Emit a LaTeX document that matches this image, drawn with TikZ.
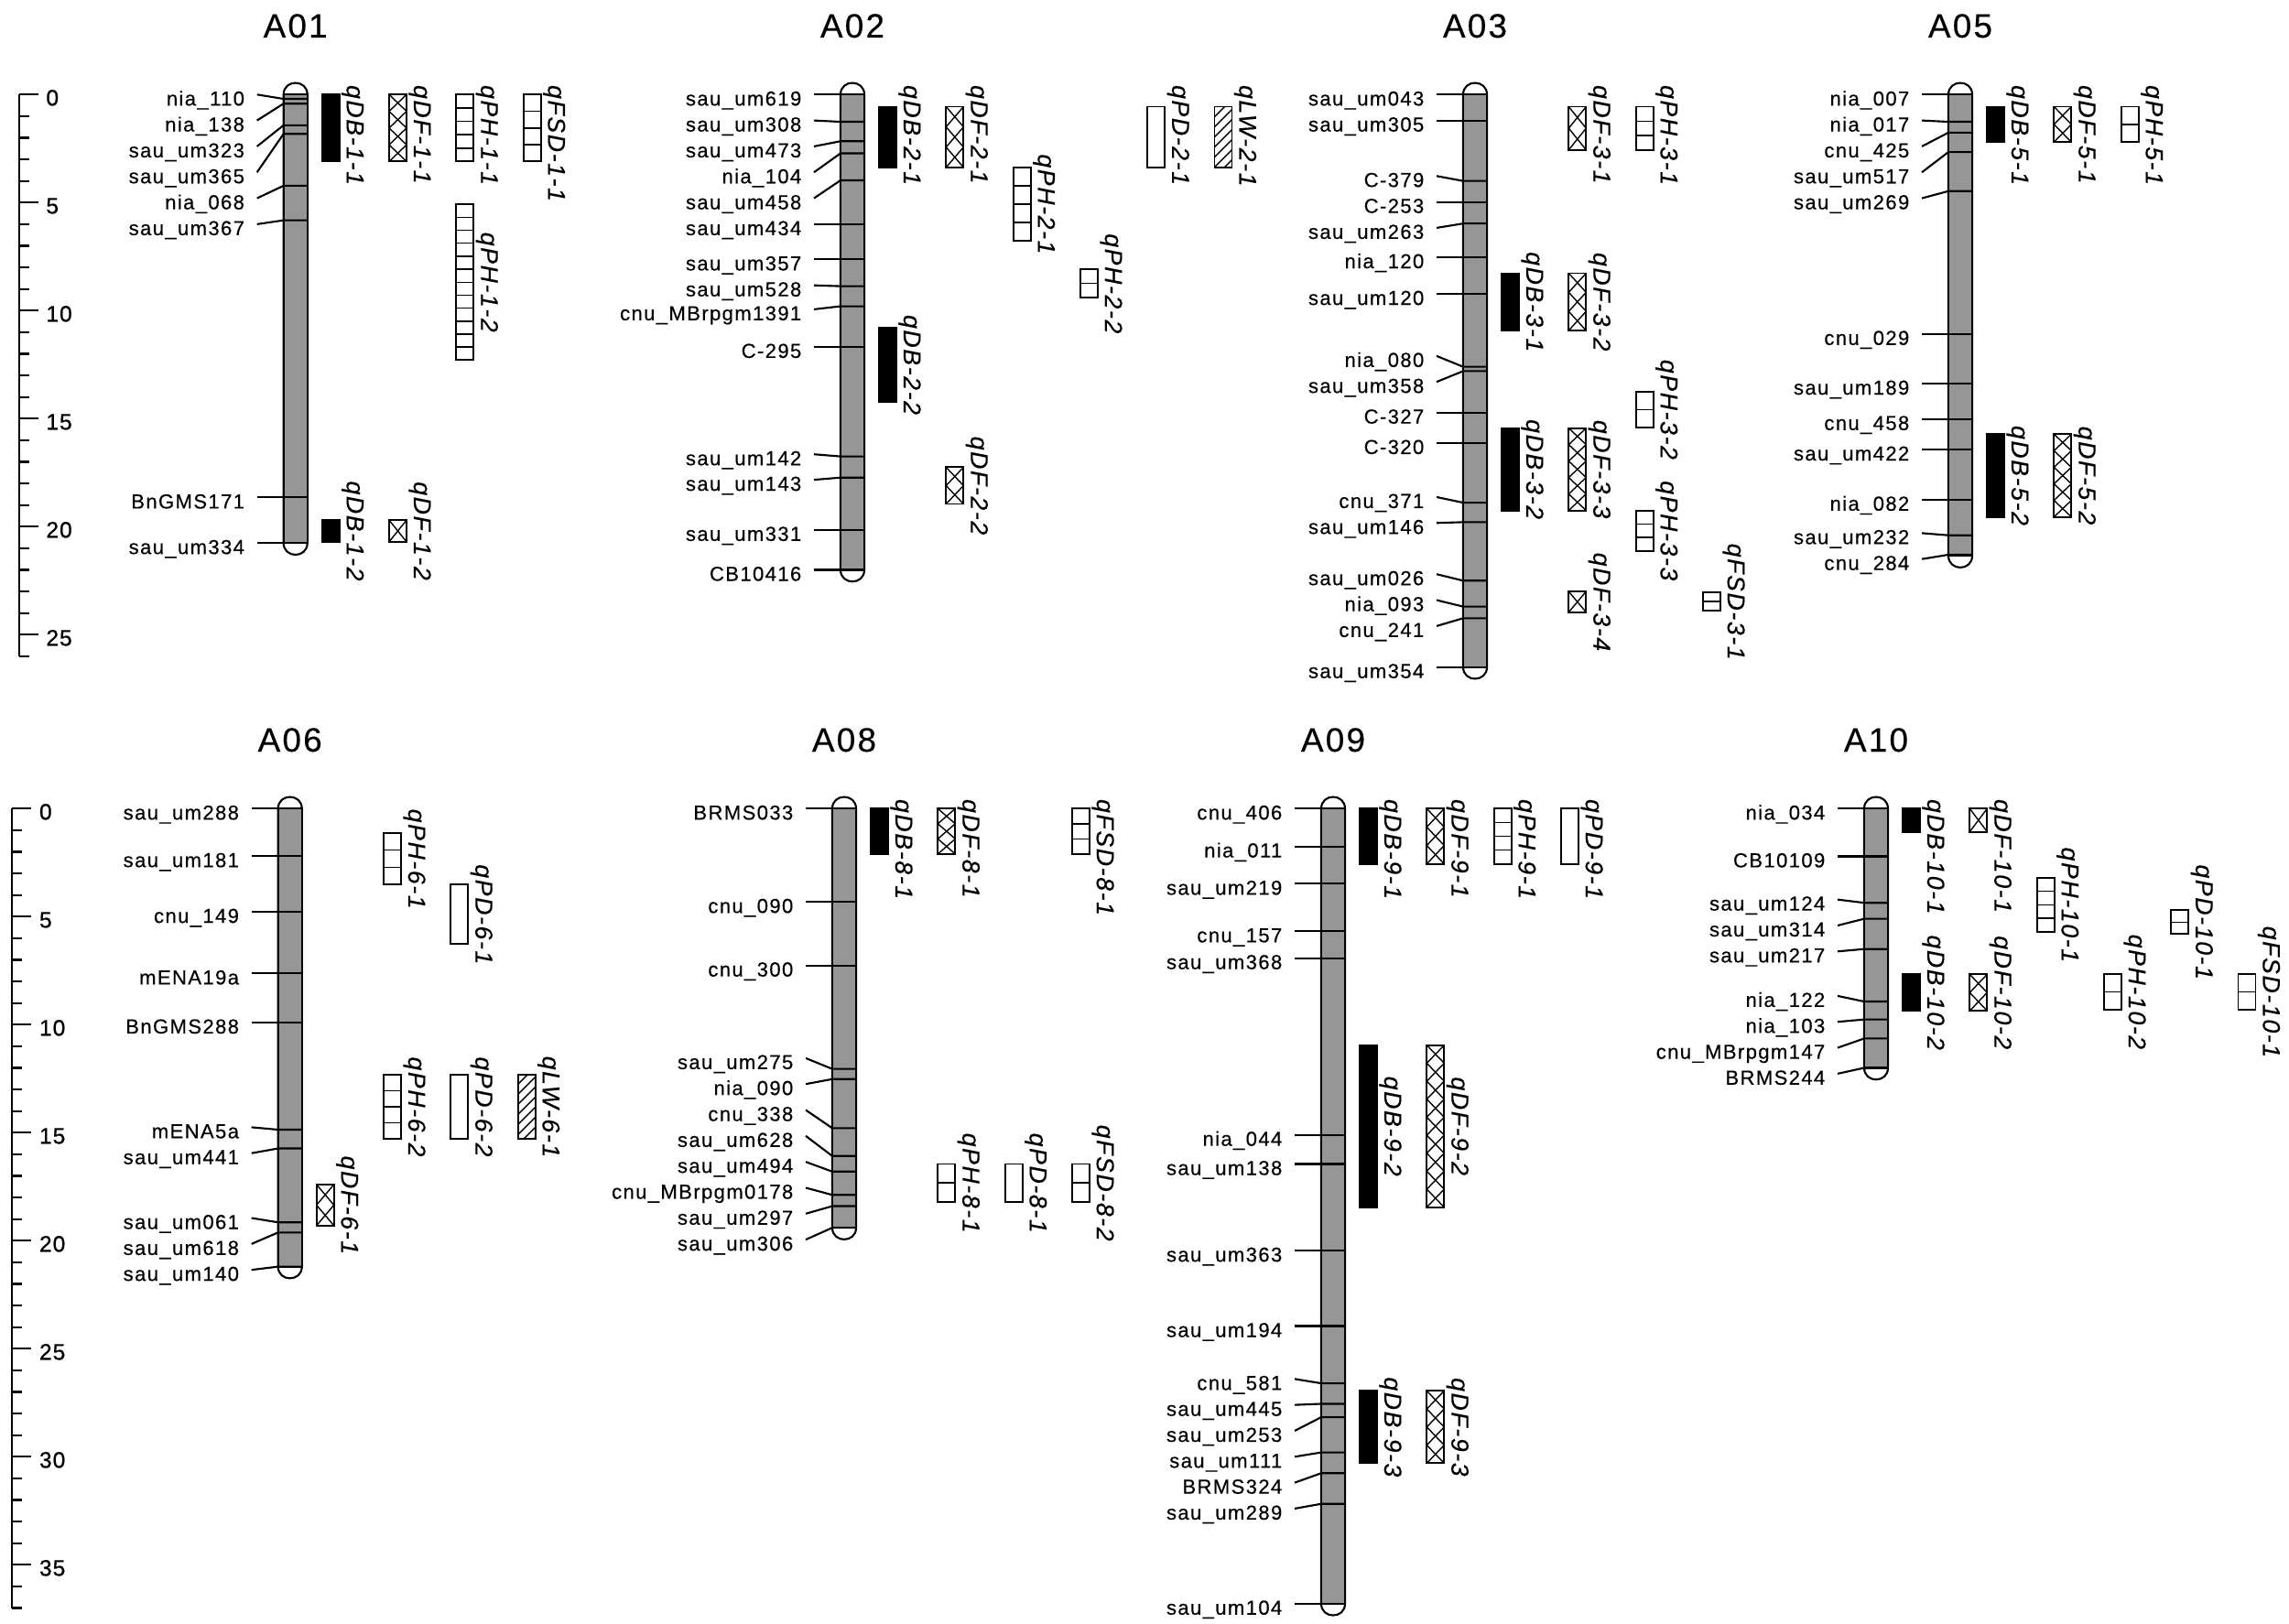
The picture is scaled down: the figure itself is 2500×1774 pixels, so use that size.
\documentclass[tikz,border=0pt]{standalone}
\usepackage{fontspec}
\setmainfont{Liberation Sans}
\newfontfamily\mkfont[LetterSpace=6, FakeBold=0.3]{Liberation Sans}
\newfontfamily\numfont[LetterSpace=4, FakeBold=0.8]{Liberation Sans}
\definecolor{chromgray}{RGB}{150,150,150}
\tikzset{
  chrline/.style={draw=black, line width=0.6pt},
  qline/.style={draw=black, line width=0.55pt},
  hatch/.style={draw=black, line width=0.4pt},
  mktick/.style={draw=black, line width=0.6pt},
  scl/.style={draw=black, line width=0.65pt},
  mk/.style={font=\mkfont\fontsize{6.3}{7.5}\selectfont, inner sep=0pt, anchor=base east},
  num/.style={font=\numfont\fontsize{7}{8}\selectfont, inner sep=0pt, anchor=base west},
  qlab/.style={font=\mkfont\itshape\fontsize{7.6}{8.5}\selectfont, inner sep=0pt, rotate=-90},
  ttl/.style={font=\mkfont\fontsize{10.5}{12}\selectfont, inner sep=0pt}
}
% chromosome: name, centre x, y of 0 cM, length in cM
\newcommand\Chrom[4]{%
  \pgfmathsetmacro\cxc{#2}%
  \pgfmathsetmacro\cxl{#2-13}%
  \pgfmathsetmacro\cxr{#2+13}%
  \pgfmathsetmacro\cyt{#3}%
  \pgfmathsetmacro\cyb{#3+23.6*(#4)}%
  \pgfmathsetmacro\capt{#3-17}%
  \pgfmathsetmacro\capb{\cyb+17}%
  \def\cname{#1}%
  \draw[chrline, fill=white] (\cxl,\cyt) .. controls (\cxl,\capt) and (\cxr,\capt) .. (\cxr,\cyt) -- (\cxr,\cyb) .. controls (\cxr,\capb) and (\cxl,\capb) .. (\cxl,\cyb) -- cycle;
  \draw[chrline, fill=chromgray] (\cxl,\cyt) rectangle (\cxr,\cyb);
  \node[ttl] (#1) at (#2,#3-75) {#1};
}
% marker: id, marker cM, label cM, text
\newcommand\Mk[4]{%
  \pgfmathsetmacro\my{\cyt+23.6*(#2)}%
  \pgfmathsetmacro\ly{\cyt+23.6*(#3)}%
  \coordinate (\cname-#1-s) at (\cxl-29,\ly);
  \coordinate (\cname-#1-m) at (\cxl,\my);
  \coordinate (\cname-#1-r) at (\cxr,\my);
  \node[mk] (\cname-#1) at (\cxl-42,\ly+12) {#4};
  \draw[mktick] (\cname-#1-s) -- (\cname-#1-m) -- (\cname-#1-r);
}
\newcommand\Qgeo[3]{%
  \pgfmathsetmacro\qxl{\cxc+29+73.3*(#1-1)}%
  \pgfmathsetmacro\qxr{\qxl+19}%
  \pgfmathsetmacro\qyt{\cyt+23.6*(#2)}%
  \pgfmathsetmacro\qyb{\cyt+23.6*(#3)}%
  \pgfmathsetmacro\qym{(\qyt+\qyb)/2}%
  \pgfmathsetmacro\qh{\qyb-\qyt}%
}
\newcommand\Qlab[3]{%
  \if t#3\relax
    \node[qlab, anchor=base west] (\cname-#1) at (\qxr+8,\cyt-11) {#2};
  \else
    \node[qlab, anchor=base] (\cname-#1) at (\qxr+8,\qym) {#2};
  \fi
}
% id, col, from, to, label, mode
\newcommand\Qdb[6]{%
  \Qgeo{#2}{#3}{#4}%
  \draw[qline, fill=black] (\qxl,\qyt) rectangle (\qxr,\qyb);
  \Qlab{#1}{#5}{#6}%
}
\newcommand\Qpd[6]{%
  \Qgeo{#2}{#3}{#4}%
  \draw[qline, fill=white] (\qxl,\qyt) rectangle (\qxr,\qyb);
  \Qlab{#1}{#5}{#6}%
}
\newcommand\Qdf[6]{%
  \Qgeo{#2}{#3}{#4}%
  \pgfmathtruncatemacro\qn{max(1,round(\qh/19))}%
  \pgfmathsetmacro\qc{\qh/\qn}%
  \foreach \i in {1,...,\qn}{
    \draw[hatch] (\qxl,{\qyt+(\i-1)*\qc}) -- (\qxr,{\qyt+\i*\qc});
    \draw[hatch] (\qxr,{\qyt+(\i-1)*\qc}) -- (\qxl,{\qyt+\i*\qc});
  }
  \draw[qline] (\qxl,\qyt) rectangle (\qxr,\qyb);
  \Qlab{#1}{#5}{#6}%
}
% id, col, from, to, label, mode, cells
\newcommand\Qph[7]{%
  \Qgeo{#2}{#3}{#4}%
  \pgfmathtruncatemacro\qm{#7-1}%
  \foreach \i in {1,...,\qm}{
    \draw[hatch] (\qxl,{\qyt+\i*\qh/#7}) -- (\qxr,{\qyt+\i*\qh/#7});
  }
  \draw[qline] (\qxl,\qyt) rectangle (\qxr,\qyb);
  \Qlab{#1}{#5}{#6}%
}
\newcommand\Qlw[6]{%
  \Qgeo{#2}{#3}{#4}%
  \pgfmathtruncatemacro\qn{ceil((\qh+19)/11)}%
  \begin{scope}
    \clip (\qxl,\qyt) rectangle (\qxr,\qyb);
    \foreach \i in {0,...,\qn}{
      \draw[hatch] (\qxl,{\qyt+\i*11}) -- (\qxr,{\qyt+\i*11-19});
    }
  \end{scope}
  \draw[qline] (\qxl,\qyt) rectangle (\qxr,\qyb);
  \Qlab{#1}{#5}{#6}%
}
% scale: name, x, y0, max cM
\newcommand\Scale[4]{%
  \draw[scl] (#2,#3) coordinate (#1-top) -- (#2,{#3+23.6*#4}) coordinate (#1-bot);
  \foreach \c in {0,...,#4}{
    \pgfmathtruncatemacro\rem{mod(\c,5)}
    \ifnum\rem=0
      \draw[scl] (#2,{#3+23.6*\c}) -- ++(21,0);
      \node[num] (#1-n\c) at (#2+29,{#3+23.6*\c+12}) {\c};
    \else
      \draw[scl] (#2,{#3+23.6*\c}) -- ++(11,0);
    \fi
  }
}
\begin{document}
\begin{tikzpicture}[x=0.1mm, y=-0.1mm]
\useasboundingbox (0,0) rectangle (2500,1774);
\fill[white] (0,0) rectangle (2500,1774);

\Scale{s1}{20.7}{103.3}{26}
\Scale{s2}{13.3}{883.3}{37}

% ---------------- A01
\Chrom{A01}{322.7}{103.3}{20.76}
\Mk{m1}{0.2}{0}{nia\_110}
\Mk{m2}{0.42}{1.2}{nia\_138}
\Mk{m3}{1.42}{2.4}{sau\_um323}
\Mk{m4}{1.82}{3.6}{sau\_um365}
\Mk{m5}{4.22}{4.8}{nia\_068}
\Mk{m6}{5.82}{6.0}{sau\_um367}
\Mk{m7}{18.65}{18.65}{BnGMS171}
\Mk{m8}{20.76}{20.76}{sau\_um334}
\Qdb{q1}{1}{0}{3.1}{qDB-1-1}{t}
\Qdf{q2}{2}{0}{3.1}{qDF-1-1}{t}
\Qph{q3}{3}{0}{3.1}{qPH-1-1}{t}{5}
\Qph{q4}{4}{0}{3.1}{qFSD-1-1}{t}{4}
\Qph{q5}{3}{5.08}{12.29}{qPH-1-2}{c}{12}
\Qdb{q6}{1}{19.7}{20.7}{qDB-1-2}{c}
\Qdf{q7}{2}{19.7}{20.7}{qDF-1-2}{c}

% ---------------- A02
\Chrom{A02}{931}{103.3}{22.0}
\Mk{m1}{0}{0}{sau\_um619}
\Mk{m2}{1.26}{1.2}{sau\_um308}
\Mk{m3}{2.16}{2.4}{sau\_um473}
\Mk{m4}{2.72}{3.6}{nia\_104}
\Mk{m5}{3.97}{4.8}{sau\_um458}
\Mk{m6}{6.0}{6.0}{sau\_um434}
\Mk{m7}{7.63}{7.63}{sau\_um357}
\Mk{m8}{8.87}{8.83}{sau\_um528}
\Mk{m9}{9.8}{9.94}{cnu\_MBrpgm1391}
\Mk{m10}{11.68}{11.68}{C-295}
\Mk{m11}{16.75}{16.65}{sau\_um142}
\Mk{m12}{17.73}{17.83}{sau\_um143}
\Mk{m13}{20.15}{20.15}{sau\_um331}
\Mk{m14}{22.0}{22.0}{CB10416}
\Qdb{q1}{1}{0.56}{3.37}{qDB-2-1}{t}
\Qdf{q2}{2}{0.56}{3.37}{qDF-2-1}{t}
\Qph{q3}{3}{3.37}{6.77}{qPH-2-1}{c}{4}
\Qph{q4}{4}{8.1}{9.4}{qPH-2-2}{c}{2}
\Qpd{q5}{5}{0.56}{3.37}{qPD-2-1}{t}
\Qlw{q6}{6}{0.56}{3.37}{qLW-2-1}{t}
\Qdb{q7}{1}{10.78}{14.24}{qDB-2-2}{c}
\Qdf{q8}{2}{17.25}{18.95}{qDF-2-2}{c}

% ---------------- A03
\Chrom{A03}{1611}{103.3}{26.5}
\Mk{m1}{0}{0}{sau\_um043}
\Mk{m2}{1.2}{1.2}{sau\_um305}
\Mk{m3}{4.0}{3.77}{C-379}
\Mk{m4}{4.97}{4.97}{C-253}
\Mk{m5}{5.97}{6.17}{sau\_um263}
\Mk{m6}{7.53}{7.53}{nia\_120}
\Mk{m7}{9.23}{9.23}{sau\_um120}
\Mk{m8}{12.6}{12.1}{nia\_080}
\Mk{m9}{12.8}{13.3}{sau\_um358}
\Mk{m10}{14.72}{14.72}{C-327}
\Mk{m11}{16.13}{16.13}{C-320}
\Mk{m12}{18.89}{18.63}{cnu\_371}
\Mk{m13}{19.79}{19.83}{sau\_um146}
\Mk{m14}{22.5}{22.2}{sau\_um026}
\Mk{m15}{23.7}{23.4}{nia\_093}
\Mk{m16}{24.24}{24.6}{cnu\_241}
\Mk{m17}{26.5}{26.5}{sau\_um354}
\Qdf{q1}{2}{0.56}{2.56}{qDF-3-1}{t}
\Qph{q2}{3}{0.56}{2.56}{qPH-3-1}{t}{3}
\Qdb{q3}{1}{8.27}{10.92}{qDB-3-1}{c}
\Qdf{q4}{2}{8.27}{10.92}{qDF-3-2}{c}
\Qph{q5}{3}{13.74}{15.42}{qPH-3-2}{c}{2}
\Qdb{q6}{1}{15.44}{19.25}{qDB-3-2}{c}
\Qdf{q7}{2}{15.44}{19.25}{qDF-3-3}{c}
\Qph{q8}{3}{19.25}{21.13}{qPH-3-3}{c}{3}
\Qdf{q9}{2}{23.0}{23.96}{qDF-3-4}{c}
\Qph{q10}{4}{23.04}{23.9}{qFSD-3-1}{c}{2}

% ---------------- A05
\Chrom{A05}{2141}{103.3}{21.35}
\Mk{m1}{0}{0}{nia\_007}
\Mk{m2}{1.26}{1.2}{nia\_017}
\Mk{m3}{1.76}{2.4}{cnu\_425}
\Mk{m4}{2.66}{3.6}{sau\_um517}
\Mk{m5}{4.47}{4.8}{sau\_um269}
\Mk{m6}{11.08}{11.08}{cnu\_029}
\Mk{m7}{13.38}{13.38}{sau\_um189}
\Mk{m8}{15.02}{15.02}{cnu\_458}
\Mk{m9}{16.43}{16.43}{sau\_um422}
\Mk{m10}{18.75}{18.75}{nia\_082}
\Mk{m11}{20.4}{20.3}{sau\_um232}
\Mk{m12}{21.3}{21.5}{cnu\_284}
\Qdb{q1}{1}{0.56}{2.2}{qDB-5-1}{t}
\Qdf{q2}{2}{0.56}{2.2}{qDF-5-1}{t}
\Qph{q3}{3}{0.56}{2.2}{qPH-5-1}{t}{2}
\Qdb{q4}{1}{15.72}{19.55}{qDB-5-2}{c}
\Qdf{q5}{2}{15.72}{19.55}{qDF-5-2}{c}

% ---------------- A06
\Chrom{A06}{316.7}{883.3}{21.2}
\Mk{m1}{0}{0}{sau\_um288}
\Mk{m2}{2.2}{2.2}{sau\_um181}
\Mk{m3}{4.78}{4.78}{cnu\_149}
\Mk{m4}{7.63}{7.63}{mENA19a}
\Mk{m5}{9.9}{9.9}{BnGMS288}
\Mk{m6}{14.86}{14.75}{mENA5a}
\Mk{m7}{15.73}{15.95}{sau\_um441}
\Mk{m8}{19.15}{18.95}{sau\_um061}
\Mk{m9}{19.62}{20.15}{sau\_um618}
\Mk{m10}{21.2}{21.35}{sau\_um140}
\Qdf{q1}{1}{17.4}{19.3}{qDF-6-1}{c}
\Qph{q2}{2}{1.13}{3.52}{qPH-6-1}{c}{3}
\Qpd{q3}{3}{3.52}{6.27}{qPD-6-1}{c}
\Qph{q4}{2}{12.3}{15.3}{qPH-6-2}{c}{4}
\Qpd{q5}{3}{12.3}{15.3}{qPD-6-2}{c}
\Qlw{q6}{4}{12.3}{15.3}{qLW-6-1}{c}

% ---------------- A08
\Chrom{A08}{922}{883.3}{19.4}
\Mk{m1}{0}{0}{BRMS033}
\Mk{m2}{4.32}{4.32}{cnu\_090}
\Mk{m3}{7.26}{7.26}{cnu\_300}
\Mk{m4}{12.05}{11.55}{sau\_um275}
\Mk{m5}{12.52}{12.75}{nia\_090}
\Mk{m6}{14.79}{13.95}{cnu\_338}
\Mk{m7}{16.08}{15.15}{sau\_um628}
\Mk{m8}{16.8}{16.35}{sau\_um494}
\Mk{m9}{17.88}{17.55}{cnu\_MBrpgm0178}
\Mk{m10}{18.4}{18.75}{sau\_um297}
\Mk{m11}{19.4}{19.95}{sau\_um306}
\Qdb{q1}{1}{0}{2.1}{qDB-8-1}{t}
\Qdf{q2}{2}{0}{2.1}{qDF-8-1}{t}
\Qph{q3}{4}{0}{2.1}{qFSD-8-1}{t}{3}
\Qph{q4}{2}{16.45}{18.2}{qPH-8-1}{c}{2}
\Qpd{q5}{3}{16.45}{18.2}{qPD-8-1}{c}
\Qph{q6}{4}{16.45}{18.2}{qFSD-8-2}{c}{2}

% ---------------- A09
\Chrom{A09}{1456}{883.3}{36.8}
\Mk{m1}{0}{0}{cnu\_406}
\Mk{m2}{1.75}{1.75}{nia\_011}
\Mk{m3}{3.48}{3.48}{sau\_um219}
\Mk{m4}{5.68}{5.68}{cnu\_157}
\Mk{m5}{6.92}{6.92}{sau\_um368}
\Mk{m6}{15.1}{15.1}{nia\_044}
\Mk{m7}{16.45}{16.45}{sau\_um138}
\Mk{m8}{20.46}{20.46}{sau\_um363}
\Mk{m9}{23.95}{23.95}{sau\_um194}
\Mk{m10}{26.6}{26.4}{cnu\_581}
\Mk{m11}{27.55}{27.6}{sau\_um445}
\Mk{m12}{28.17}{28.8}{sau\_um253}
\Mk{m13}{29.8}{30.0}{sau\_um111}
\Mk{m14}{30.76}{31.2}{BRMS324}
\Mk{m15}{32.18}{32.4}{sau\_um289}
\Mk{m16}{36.8}{36.8}{sau\_um104}
\Qdb{q1}{1}{0}{2.56}{qDB-9-1}{t}
\Qdf{q2}{2}{0}{2.56}{qDF-9-1}{t}
\Qph{q3}{3}{0}{2.56}{qPH-9-1}{t}{4}
\Qpd{q4}{4}{0}{2.56}{qPD-9-1}{t}
\Qdb{q5}{1}{10.95}{18.45}{qDB-9-2}{c}
\Qdf{q6}{2}{10.95}{18.45}{qDF-9-2}{c}
\Qdb{q7}{1}{26.95}{30.3}{qDB-9-3}{c}
\Qdf{q8}{2}{26.95}{30.3}{qDF-9-3}{c}

% ---------------- A10
\Chrom{A10}{2049}{883.3}{12.0}
\Mk{m1}{0}{0}{nia\_034}
\Mk{m2}{2.21}{2.21}{CB10109}
\Mk{m3}{4.36}{4.21}{sau\_um124}
\Mk{m4}{5.1}{5.41}{sau\_um314}
\Mk{m5}{6.5}{6.61}{sau\_um217}
\Mk{m6}{8.93}{8.67}{nia\_122}
\Mk{m7}{9.76}{9.87}{nia\_103}
\Mk{m8}{10.64}{11.07}{cnu\_MBrpgm147}
\Mk{m9}{12.0}{12.27}{BRMS244}
\Qdb{q1}{1}{0}{1.07}{qDB-10-1}{t}
\Qdf{q2}{2}{0}{1.07}{qDF-10-1}{t}
\Qph{q3}{3}{3.2}{5.7}{qPH-10-1}{c}{4}
\Qph{q4}{4}{7.67}{9.29}{qPH-10-2}{c}{2}
\Qph{q5}{5}{4.7}{5.8}{qPD-10-1}{c}{2}
\Qph{q6}{6}{7.67}{9.29}{qFSD-10-1}{c}{2}
\Qdb{q7}{1}{7.67}{9.36}{qDB-10-2}{c}
\Qdf{q8}{2}{7.67}{9.36}{qDF-10-2}{c}
\end{tikzpicture}
\end{document}
